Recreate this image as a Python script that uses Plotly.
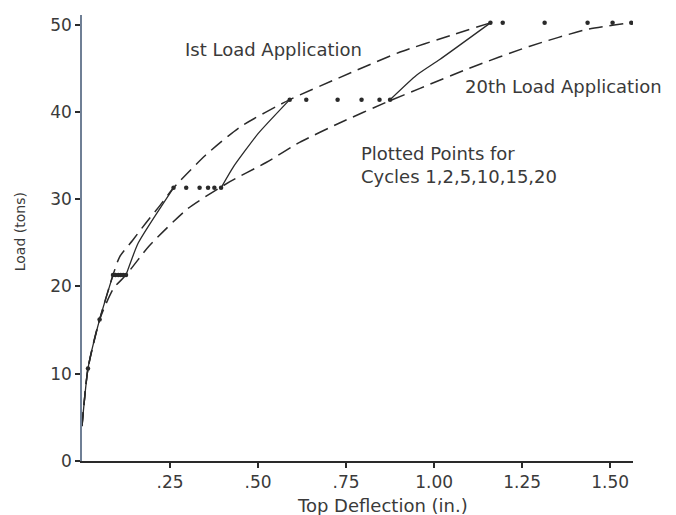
import plotly.graph_objects as go

# ---- data ----
first_x = [0, 0.017, 0.05, 0.088, 0.107, 0.144, 0.182, 0.22, 0.26, 0.35, 0.45, 0.59, 0.73, 0.9, 1.05, 1.16]
first_y = [4, 10.6, 16.2, 21.3, 23.4, 25.3, 27.3, 29.2, 31.3, 35.0, 38.3, 41.4, 43.9, 46.8, 48.8, 50.2]

twentieth_x = [0, 0.017, 0.05, 0.09, 0.125, 0.19, 0.3, 0.42, 0.523, 0.618, 0.73, 0.87, 0.96, 1.1, 1.27, 1.44, 1.56]
twentieth_y = [4, 10.6, 16.2, 19.8, 21.3, 24.6, 28.9, 32.0, 34.2, 36.5, 38.7, 41.2, 42.7, 45.0, 47.5, 49.5, 50.2]

initial_x = [0, 0.017, 0.05, 0.088]
initial_y = [4, 10.6, 16.2, 21.3]

reload1_x = [0.125, 0.16, 0.26]
reload1_y = [21.3, 25.0, 31.3]
reload2_x = [0.395, 0.43, 0.5, 0.59]
reload2_y = [31.3, 33.7, 37.5, 41.4]
reload3_x = [0.875, 0.95, 1.016, 1.16]
reload3_y = [41.4, 44.2, 46.0, 50.2]

points_x = [0.017, 0.05,
            0.088, 0.095, 0.103, 0.11, 0.117, 0.125,
            0.26, 0.296, 0.334, 0.358, 0.376, 0.395,
            0.59, 0.637, 0.726, 0.794, 0.845, 0.875,
            1.16, 1.195, 1.314, 1.436, 1.507, 1.56]
points_y = [10.6, 16.2,
            21.3, 21.3, 21.3, 21.3, 21.3, 21.3,
            31.3, 31.3, 31.3, 31.3, 31.3, 31.3,
            41.4, 41.4, 41.4, 41.4, 41.4, 41.4,
            50.2, 50.2, 50.2, 50.2, 50.2, 50.2]

x_tickvals = [0.25, 0.5, 0.75, 1.0, 1.25, 1.5]
x_ticktext = [".25", ".50", ".75", "1.00", "1.25", "1.50"]
y_tickvals = [0, 10, 20, 30, 40, 50]
y_ticktext = ["0", "10", "20", "30", "40", "50"]

INK = "#2a2a2a"
TXT = "#3a3a3a"
FONT = "DejaVu Sans"

fig = go.Figure()
dash = "14px,7px"
fig.add_trace(go.Scatter(x=first_x, y=first_y, mode="lines",
                         line=dict(color=INK, width=1.5, dash=dash, shape="spline", smoothing=0.6)))
fig.add_trace(go.Scatter(x=twentieth_x, y=twentieth_y, mode="lines",
                         line=dict(color=INK, width=1.5, dash=dash, shape="spline", smoothing=0.6)))
for sx, sy in [(initial_x, initial_y), (reload1_x, reload1_y), (reload2_x, reload2_y), (reload3_x, reload3_y)]:
    fig.add_trace(go.Scatter(x=sx, y=sy, mode="lines",
                             line=dict(color=INK, width=1.3, shape="spline", smoothing=0.5)))
fig.add_trace(go.Scatter(x=points_x, y=points_y, mode="markers",
                         marker=dict(color=INK, size=4.5)))

fig.update_layout(
    width=676, height=515,
    margin=dict(l=82, r=43, t=15, b=54),
    paper_bgcolor="white", plot_bgcolor="white",
    showlegend=False,
    font=dict(family=FONT, size=17, color=TXT),
    xaxis=dict(range=[0, 1.565], tickvals=x_tickvals, ticktext=x_ticktext,
               showgrid=False, zeroline=False, showline=True, linecolor=INK, linewidth=2,
               ticks="outside", ticklen=5, tickcolor=INK, tickwidth=1.5,
               tickfont=dict(family=FONT, size=17, color=TXT)),
    yaxis=dict(range=[0, 51.1], tickvals=y_tickvals, ticktext=y_ticktext,
               showgrid=False, zeroline=False, showline=True, linecolor="#6f7f95", linewidth=1.5,
               ticks="outside", ticklen=5, tickcolor=INK, tickwidth=1.5,
               tickfont=dict(family=FONT, size=17, color=TXT)),
    annotations=[
        dict(x=0.2855, y=47.1, xref="x", yref="y", text="Ist Load Application",
             showarrow=False, xanchor="left", yanchor="middle", font=dict(size=18)),
        dict(x=1.081, y=42.9, xref="x", yref="y", text="20th Load Application",
             showarrow=False, xanchor="left", yanchor="middle", font=dict(size=18)),
        dict(x=0.788, y=33.9, xref="x", yref="y", text="Plotted Points for<br>Cycles 1,2,5,10,15,20",
             showarrow=False, xanchor="left", yanchor="middle", align="left", font=dict(size=18)),
        dict(x=0.854, y=-0.099, xref="x", yref="paper", text="Top Deflection (in.)",
             showarrow=False, xanchor="center", yanchor="middle", font=dict(size=18)),
        dict(x=-0.111, y=26.3, xref="paper", yref="y", text="Load (tons)", textangle=-90,
             showarrow=False, xanchor="center", yanchor="middle", font=dict(size=14)),
    ],
)

fig.write_html("out.html")
